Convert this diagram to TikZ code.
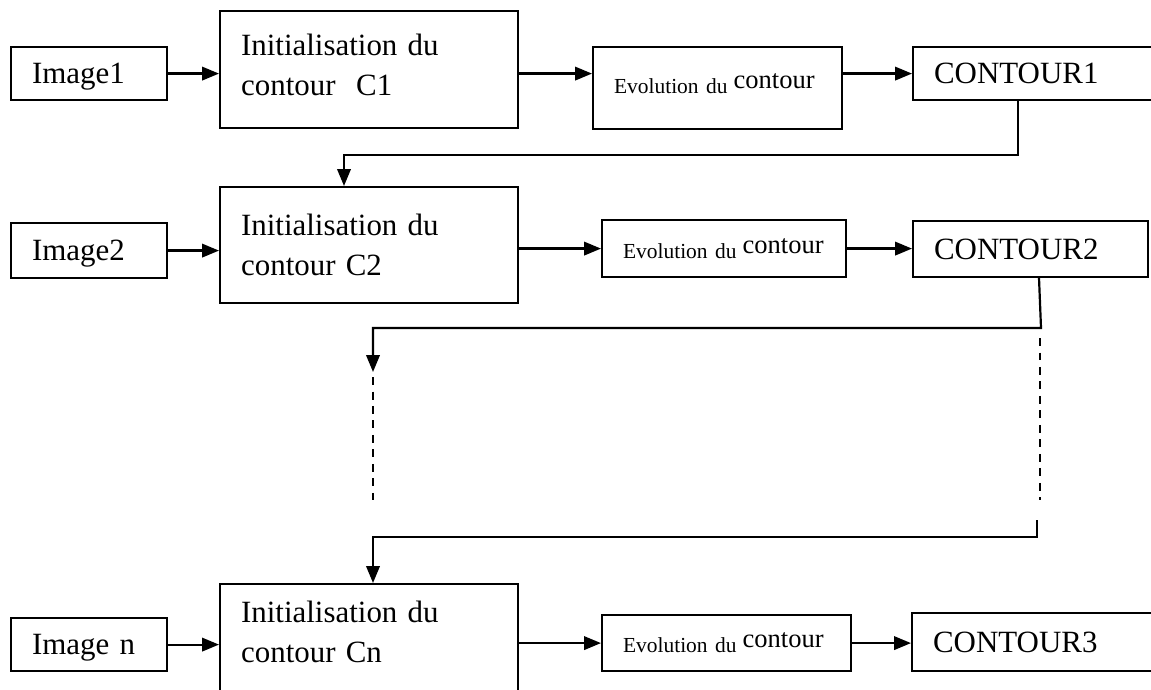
\documentclass[tikz,border=0pt]{standalone}
\usepackage{fontspec}
\setmainfont{Liberation Serif}
\usetikzlibrary{arrows.meta}
\newcommand\policegrande{\fontsize{17.6}{22.8}\selectfont}
\newcommand\policepetite{\fontsize{12.2}{14}\selectfont}
\newcommand\policemoyenne{\fontsize{15.1}{17}\selectfont}
\newcommand\evolcontour{\mbox{\policepetite Evolution\hspace{0.35em}du\hspace{0.12cm}\raisebox{0.1cm}{\policemoyenne contour}}}

\begin{document}
\begin{tikzpicture}[x=0.02cm, y=-0.02cm,
        boite/.style={draw, line width=1.25pt, anchor=north west, align=left, inner xsep=0.42cm, inner ysep=0pt, font=\policegrande},
        fleche/.style={line width=1.25pt, -{Triangle[length=0.34cm, width=0.27cm]}},
        tirets/.style={line width=1.25pt, dash pattern=on 0.16cm off 0.13cm}]
        \useasboundingbox (0,0) rectangle (1151,689);
        \clip (0,0) rectangle (1151,689);

        % ligne 1
        \node[boite, text width=2.28cm, text depth=0pt, minimum height=1.06cm] (img1) at (10,46) {Image1};
        \node[boite, text width=5.12cm, minimum height=2.34cm] (init1) at (219,10) {Initialisation du\\contour\ \ C1\rule[-0.2cm]{0pt}{0.2cm}};
        \node[boite, text width=4.14cm, minimum height=1.64cm] (evol1) at (592,46) {\evolcontour\rule[-0.2cm]{0pt}{0.2cm}};
        \node[boite, text width=4.36cm, minimum height=1.06cm] (cont1) at (912,46) {CONTOUR1};

        % ligne 2
        \node[boite, text width=2.28cm, text depth=0pt, minimum height=1.1cm] (img2) at (10,222) {Image2};
        \node[boite, text width=5.12cm, minimum height=2.32cm] (init2) at (219,186) {Initialisation du\\contour C2};
        \node[boite, text width=4.04cm, minimum height=1.14cm] (evol2) at (601,219) {\evolcontour};
        \node[boite, text width=3.86cm, minimum height=1.12cm] (cont2) at (912,220) {CONTOUR2};

        % ligne n
        \node[boite, text width=2.28cm, text depth=0pt, minimum height=1.06cm] (imgn) at (10,617) {Image n};
        \node[boite, text width=5.12cm, minimum height=2.2cm] (initn) at (219,583) {Initialisation du\\contour Cn\rule[-0.28cm]{0pt}{0.28cm}};
        \node[boite, text width=4.14cm, minimum height=1.12cm] (evoln) at (601,614) {\evolcontour};
        \node[boite, text width=4.36cm, minimum height=1.16cm] (contn) at (911,612) {CONTOUR3};

        \draw[fleche] (img1) -- (img1 -| init1.west);
        \draw[fleche] (init1.east |- img1) -- (evol1.west |- img1);
        \draw[fleche] (evol1.east |- img1) -- (cont1.west);

        \draw[fleche] (img2) -- (img2 -| init2.west);
        \draw[fleche] (init2.east |- evol2) -- (evol2.west);
        \draw[fleche] (evol2.east) -- (evol2.east -| cont2.west);

        \draw[fleche] (imgn) -- (imgn -| initn.west);
        \draw[fleche] (initn.east |- evoln) -- (evoln.west);
        \draw[fleche] (evoln.east) -- (evoln.east -| contn.west);

        % retours
        \coordinate (coude1) at (1018,155);
        \coordinate (coude2) at (344,155);
        \draw[fleche] (cont1.south -| coude1) -- (coude1) -- (coude2) -- (coude2 |- init2.north);

        \coordinate (depart2) at (1039,0);
        \coordinate (coude3) at (1041,328);
        \coordinate (coude4) at (373,328);
        \coordinate (pointe) at (373,372);
        \draw[fleche] (cont2.south -| depart2) -- (coude3) -- (coude4) -- (pointe);

        \coordinate (hautA) at (373,377);
        \coordinate (basA) at (373,500);
        \coordinate (hautB) at (1040,338);
        \coordinate (basB) at (1040,500);
        \draw[tirets] (hautA) -- (basA);
        \draw[tirets] (hautB) -- (basB);

        \coordinate (coude5) at (1037,520);
        \coordinate (coude6) at (1037,537);
        \coordinate (coude7) at (373,537);
        \draw[fleche] (coude5) -- (coude6) -- (coude7) -- (coude7 |- initn.north);
\end{tikzpicture}
\end{document}
